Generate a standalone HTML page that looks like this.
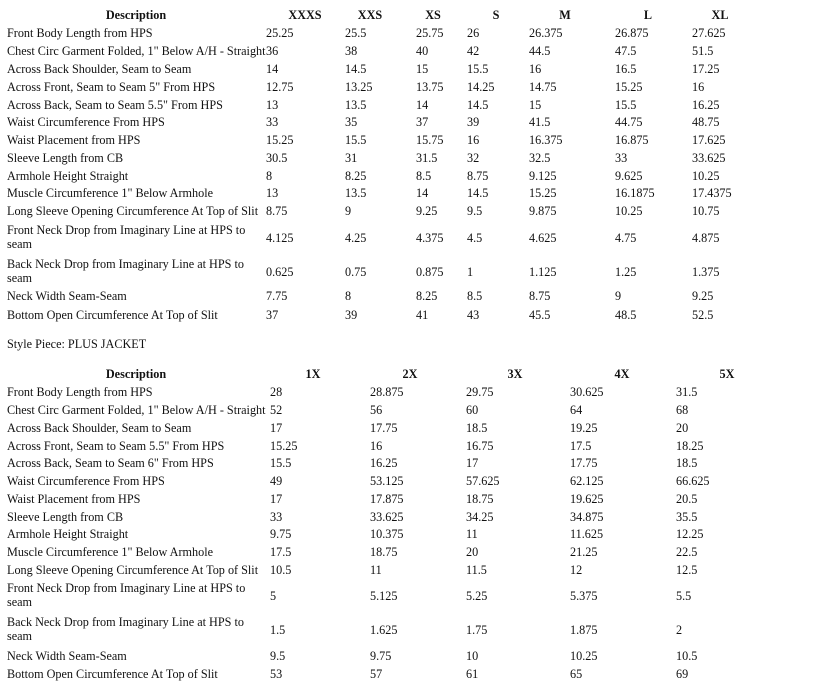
<!DOCTYPE html>
<html><head><meta charset="utf-8"><style>
body{margin:0;width:828px;height:688px;background:#fff;position:relative;font-family:"Liberation Serif",serif;font-size:12.2px;color:#111;overflow:hidden}
.r{position:absolute;left:0;width:828px;height:16px;line-height:16px}
.r span{position:absolute;white-space:nowrap}
.h span{font-weight:bold;transform:translateX(-50%)}
.t{line-height:14px;height:30px}
.t span{top:8px}
.t span.d{top:0}
</style></head><body>
<div class="r h" style="top:7px"><span style="left:136px">Description</span><span style="left:305px">XXXS</span><span style="left:370px">XXS</span><span style="left:433px">XS</span><span style="left:496px">S</span><span style="left:565px">M</span><span style="left:648px">L</span><span style="left:720px">XL</span></div>
<div class="r" style="top:25px"><span style="left:7px">Front Body Length from HPS</span><span style="left:266px">25.25</span><span style="left:345px">25.5</span><span style="left:416px">25.75</span><span style="left:467px">26</span><span style="left:529px">26.375</span><span style="left:615px">26.875</span><span style="left:692px">27.625</span></div>
<div class="r" style="top:43px"><span style="left:7px">Chest Circ Garment Folded, 1" Below A/H - Straight</span><span style="left:266px">36</span><span style="left:345px">38</span><span style="left:416px">40</span><span style="left:467px">42</span><span style="left:529px">44.5</span><span style="left:615px">47.5</span><span style="left:692px">51.5</span></div>
<div class="r" style="top:61px"><span style="left:7px">Across Back Shoulder, Seam to Seam</span><span style="left:266px">14</span><span style="left:345px">14.5</span><span style="left:416px">15</span><span style="left:467px">15.5</span><span style="left:529px">16</span><span style="left:615px">16.5</span><span style="left:692px">17.25</span></div>
<div class="r" style="top:79px"><span style="left:7px">Across Front, Seam to Seam 5" From HPS</span><span style="left:266px">12.75</span><span style="left:345px">13.25</span><span style="left:416px">13.75</span><span style="left:467px">14.25</span><span style="left:529px">14.75</span><span style="left:615px">15.25</span><span style="left:692px">16</span></div>
<div class="r" style="top:97px"><span style="left:7px">Across Back, Seam to Seam 5.5" From HPS</span><span style="left:266px">13</span><span style="left:345px">13.5</span><span style="left:416px">14</span><span style="left:467px">14.5</span><span style="left:529px">15</span><span style="left:615px">15.5</span><span style="left:692px">16.25</span></div>
<div class="r" style="top:114px"><span style="left:7px">Waist Circumference From HPS</span><span style="left:266px">33</span><span style="left:345px">35</span><span style="left:416px">37</span><span style="left:467px">39</span><span style="left:529px">41.5</span><span style="left:615px">44.75</span><span style="left:692px">48.75</span></div>
<div class="r" style="top:132px"><span style="left:7px">Waist Placement from HPS</span><span style="left:266px">15.25</span><span style="left:345px">15.5</span><span style="left:416px">15.75</span><span style="left:467px">16</span><span style="left:529px">16.375</span><span style="left:615px">16.875</span><span style="left:692px">17.625</span></div>
<div class="r" style="top:150px"><span style="left:7px">Sleeve Length from CB</span><span style="left:266px">30.5</span><span style="left:345px">31</span><span style="left:416px">31.5</span><span style="left:467px">32</span><span style="left:529px">32.5</span><span style="left:615px">33</span><span style="left:692px">33.625</span></div>
<div class="r" style="top:168px"><span style="left:7px">Armhole Height Straight</span><span style="left:266px">8</span><span style="left:345px">8.25</span><span style="left:416px">8.5</span><span style="left:467px">8.75</span><span style="left:529px">9.125</span><span style="left:615px">9.625</span><span style="left:692px">10.25</span></div>
<div class="r" style="top:185px"><span style="left:7px">Muscle Circumference 1" Below Armhole</span><span style="left:266px">13</span><span style="left:345px">13.5</span><span style="left:416px">14</span><span style="left:467px">14.5</span><span style="left:529px">15.25</span><span style="left:615px">16.1875</span><span style="left:692px">17.4375</span></div>
<div class="r" style="top:203px"><span style="left:7px">Long Sleeve Opening Circumference At Top of Slit</span><span style="left:266px">8.75</span><span style="left:345px">9</span><span style="left:416px">9.25</span><span style="left:467px">9.5</span><span style="left:529px">9.875</span><span style="left:615px">10.25</span><span style="left:692px">10.75</span></div>
<div class="r t" style="top:223px"><span class="d" style="left:7px">Front Neck Drop from Imaginary Line at HPS to<br>seam</span><span style="left:266px">4.125</span><span style="left:345px">4.25</span><span style="left:416px">4.375</span><span style="left:467px">4.5</span><span style="left:529px">4.625</span><span style="left:615px">4.75</span><span style="left:692px">4.875</span></div>
<div class="r t" style="top:257px"><span class="d" style="left:7px">Back Neck Drop from Imaginary Line at HPS to<br>seam</span><span style="left:266px">0.625</span><span style="left:345px">0.75</span><span style="left:416px">0.875</span><span style="left:467px">1</span><span style="left:529px">1.125</span><span style="left:615px">1.25</span><span style="left:692px">1.375</span></div>
<div class="r" style="top:288px"><span style="left:7px">Neck Width Seam-Seam</span><span style="left:266px">7.75</span><span style="left:345px">8</span><span style="left:416px">8.25</span><span style="left:467px">8.5</span><span style="left:529px">8.75</span><span style="left:615px">9</span><span style="left:692px">9.25</span></div>
<div class="r" style="top:307px"><span style="left:7px">Bottom Open Circumference At Top of Slit</span><span style="left:266px">37</span><span style="left:345px">39</span><span style="left:416px">41</span><span style="left:467px">43</span><span style="left:529px">45.5</span><span style="left:615px">48.5</span><span style="left:692px">52.5</span></div>
<div class="r" style="top:336px"><span style="left:7px">Style Piece: PLUS JACKET</span></div>
<div class="r h" style="top:366px"><span style="left:136px">Description</span><span style="left:313px">1X</span><span style="left:410px">2X</span><span style="left:515px">3X</span><span style="left:622px">4X</span><span style="left:727px">5X</span></div>
<div class="r" style="top:384px"><span style="left:7px">Front Body Length from HPS</span><span style="left:270px">28</span><span style="left:370px">28.875</span><span style="left:466px">29.75</span><span style="left:570px">30.625</span><span style="left:676px">31.5</span></div>
<div class="r" style="top:402px"><span style="left:7px">Chest Circ Garment Folded, 1" Below A/H - Straight</span><span style="left:270px">52</span><span style="left:370px">56</span><span style="left:466px">60</span><span style="left:570px">64</span><span style="left:676px">68</span></div>
<div class="r" style="top:420px"><span style="left:7px">Across Back Shoulder, Seam to Seam</span><span style="left:270px">17</span><span style="left:370px">17.75</span><span style="left:466px">18.5</span><span style="left:570px">19.25</span><span style="left:676px">20</span></div>
<div class="r" style="top:438px"><span style="left:7px">Across Front, Seam to Seam 5.5" From HPS</span><span style="left:270px">15.25</span><span style="left:370px">16</span><span style="left:466px">16.75</span><span style="left:570px">17.5</span><span style="left:676px">18.25</span></div>
<div class="r" style="top:455px"><span style="left:7px">Across Back, Seam to Seam 6" From HPS</span><span style="left:270px">15.5</span><span style="left:370px">16.25</span><span style="left:466px">17</span><span style="left:570px">17.75</span><span style="left:676px">18.5</span></div>
<div class="r" style="top:473px"><span style="left:7px">Waist Circumference From HPS</span><span style="left:270px">49</span><span style="left:370px">53.125</span><span style="left:466px">57.625</span><span style="left:570px">62.125</span><span style="left:676px">66.625</span></div>
<div class="r" style="top:491px"><span style="left:7px">Waist Placement from HPS</span><span style="left:270px">17</span><span style="left:370px">17.875</span><span style="left:466px">18.75</span><span style="left:570px">19.625</span><span style="left:676px">20.5</span></div>
<div class="r" style="top:509px"><span style="left:7px">Sleeve Length from CB</span><span style="left:270px">33</span><span style="left:370px">33.625</span><span style="left:466px">34.25</span><span style="left:570px">34.875</span><span style="left:676px">35.5</span></div>
<div class="r" style="top:526px"><span style="left:7px">Armhole Height Straight</span><span style="left:270px">9.75</span><span style="left:370px">10.375</span><span style="left:466px">11</span><span style="left:570px">11.625</span><span style="left:676px">12.25</span></div>
<div class="r" style="top:544px"><span style="left:7px">Muscle Circumference 1" Below Armhole</span><span style="left:270px">17.5</span><span style="left:370px">18.75</span><span style="left:466px">20</span><span style="left:570px">21.25</span><span style="left:676px">22.5</span></div>
<div class="r" style="top:562px"><span style="left:7px">Long Sleeve Opening Circumference At Top of Slit</span><span style="left:270px">10.5</span><span style="left:370px">11</span><span style="left:466px">11.5</span><span style="left:570px">12</span><span style="left:676px">12.5</span></div>
<div class="r t" style="top:581px"><span class="d" style="left:7px">Front Neck Drop from Imaginary Line at HPS to<br>seam</span><span style="left:270px">5</span><span style="left:370px">5.125</span><span style="left:466px">5.25</span><span style="left:570px">5.375</span><span style="left:676px">5.5</span></div>
<div class="r t" style="top:615px"><span class="d" style="left:7px">Back Neck Drop from Imaginary Line at HPS to<br>seam</span><span style="left:270px">1.5</span><span style="left:370px">1.625</span><span style="left:466px">1.75</span><span style="left:570px">1.875</span><span style="left:676px">2</span></div>
<div class="r" style="top:648px"><span style="left:7px">Neck Width Seam-Seam</span><span style="left:270px">9.5</span><span style="left:370px">9.75</span><span style="left:466px">10</span><span style="left:570px">10.25</span><span style="left:676px">10.5</span></div>
<div class="r" style="top:666px"><span style="left:7px">Bottom Open Circumference At Top of Slit</span><span style="left:270px">53</span><span style="left:370px">57</span><span style="left:466px">61</span><span style="left:570px">65</span><span style="left:676px">69</span></div>
</body></html>
